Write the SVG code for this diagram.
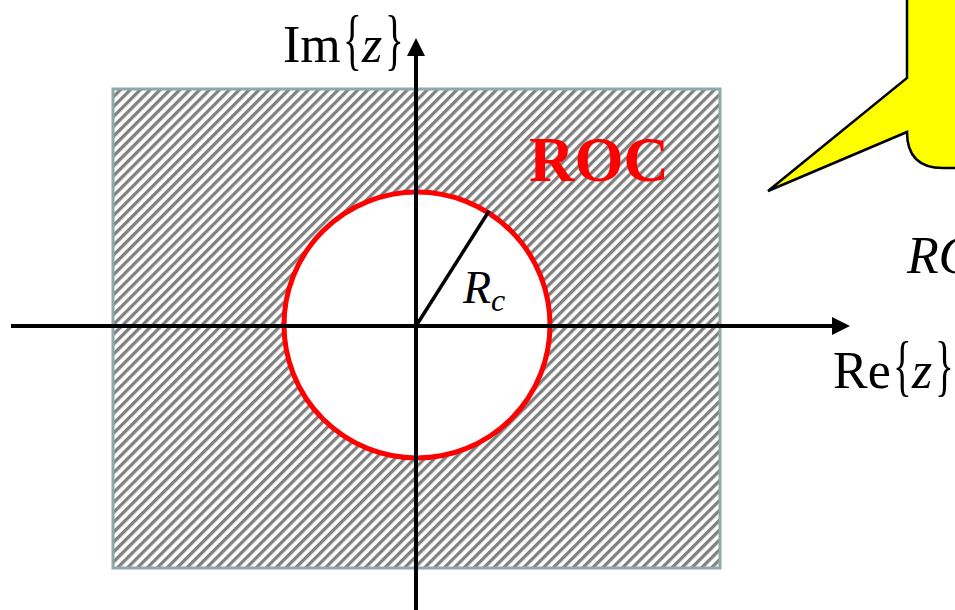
<svg xmlns="http://www.w3.org/2000/svg" width="955" height="610" viewBox="0 0 955 610">
<defs>
<pattern id="hatch" patternUnits="userSpaceOnUse" width="7" height="7" patternTransform="rotate(45)">
<rect x="0" y="0" width="3.3" height="7" fill="#808080"/>
</pattern>
</defs>
<style>
.ax{stroke:#000;stroke-width:4;fill:none}
.lbl{font-family:"Liberation Serif",serif;font-size:52px;fill:#000}
.it{font-style:italic}
</style>
<rect width="955" height="610" fill="#fff"/>
<g id="region">
<rect x="113" y="89" width="607" height="479" fill="url(#hatch)" stroke="#8fa8a8" stroke-width="3"/>
<circle cx="417" cy="325" r="133" fill="#fff" stroke="#ff0000" stroke-width="5"/>
</g>
<g id="connectors">
<line class="ax" x1="11" y1="326" x2="834" y2="326"/>
<path d="M832,317 L850,326 L832,335 Z" fill="#000"/>
<line class="ax" x1="416" y1="610" x2="416" y2="54"/>
<path d="M407,56 L416,38 L425,56 Z" fill="#000"/>
<line x1="416" y1="326" x2="489" y2="211" stroke="#000" stroke-width="3.5"/>
</g>
<g id="labels">
<text class="lbl" x="283" y="62">Im</text>
<text class="lbl" transform="translate(343,62) scale(0.75,1.3)">{</text>
<text class="lbl it" x="362" y="62">z</text>
<text class="lbl" transform="translate(385,62) scale(0.75,1.3)">}</text>
<text class="lbl" x="833" y="388">Re</text>
<text class="lbl" transform="translate(893,388) scale(0.75,1.3)">{</text>
<text class="lbl it" x="912" y="388">z</text>
<text class="lbl" transform="translate(935,388) scale(0.75,1.3)">}</text>
<text x="529" y="181" font-family="Liberation Serif,serif" font-weight="bold" font-size="63" fill="#ff0000">ROC</text>
<text x="463" y="303" font-family="Liberation Serif,serif" font-style="italic" font-size="46" fill="#000">R<tspan font-size="32" dy="8">c</tspan></text>
<text x="907" y="273" font-family="Liberation Serif,serif" font-style="italic" font-size="52" fill="#000">ROC</text>
</g>
<g id="callout">
<path d="M907,-5 L907,78 L768,191 L907,132 Q907,168 943,168 L960,168 L960,-5 Z" fill="#ffff00" stroke="#000" stroke-width="2.5"/>
</g>
</svg>
